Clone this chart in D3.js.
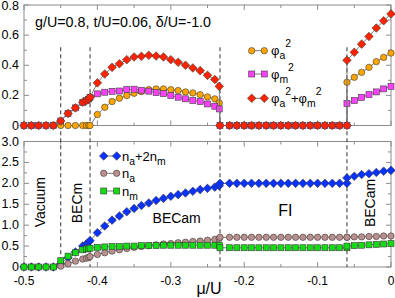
<!DOCTYPE html>
<html><head><meta charset="utf-8">
<script src="https://cdn.jsdelivr.net/npm/d3@7"></script>
<style>body{margin:0;background:#fff}svg{display:block}text{font-family:"Liberation Sans",Arial,sans-serif}</style>
</head><body>
<script>
const mu = [-0.5,-0.49,-0.48,-0.47,-0.46,
 -0.45,-0.44,-0.43,-0.42,-0.415,-0.412,-0.41,
 -0.40,-0.39,-0.38,-0.37,-0.36,-0.35,-0.34,-0.33,-0.32,-0.31,-0.30,-0.29,-0.28,-0.27,-0.26,-0.25,-0.24,
 -0.234,
 -0.233,-0.22,-0.21,-0.20,-0.19,-0.18,-0.17,-0.16,-0.15,-0.14,-0.13,-0.12,-0.11,-0.10,-0.09,-0.08,-0.07,-0.06,
 -0.06,-0.05,-0.04,-0.03,-0.02,-0.01,0];
const phiA2 = [0,0,0,0,0,
 0,0,0,0,0,0,0,
 0.073,0.121,0.159,0.181,0.199,0.214,0.225,0.238,0.243,0.243,0.238,0.232,0.223,0.216,0.205,0.19,0.177,
 0.15,
 0,0,0,0,0,0,0,0,0,0,0,0,0,0,0,0,0,0,
 0.287,0.32,0.353,0.386,0.424,0.452,0.481];
const phiM2 = [0,0,0,0,0,
 0.03,0.08,0.117,0.154,0.165,0.175,0.187,
 0.21,0.221,0.227,0.229,0.238,0.241,0.234,0.228,0.218,0.212,0.199,0.188,0.177,0.166,0.159,0.143,0.128,
 0.11,
 0,0,0,0,0,0,0,0,0,0,0,0,0,0,0,0,0,0,
 0.146,0.166,0.187,0.205,0.223,0.243,0.26];
const phiSum = [0,0,0,0,0,
 0.03,0.08,0.117,0.154,0.165,0.175,0.187,
 0.283,0.342,0.386,0.41,0.437,0.455,0.459,0.466,0.461,0.455,0.437,0.42,0.40,0.382,0.364,0.333,0.305,
 0.26,
 0,0,0,0,0,0,0,0,0,0,0,0,0,0,0,0,0,0,
 0.433,0.486,0.54,0.591,0.647,0.695,0.741];
const nTot = [0,0,0,0,0,
 0.08,0.22,0.36,0.50,0.55,0.59,0.63,
 0.82,0.98,1.12,1.22,1.32,1.40,1.47,1.53,1.59,1.64,1.69,1.73,1.77,1.81,1.85,1.88,1.91,
 1.94,
 2.0,2.0,2.0,2.0,2.0,2.0,2.0,2.0,2.0,2.0,2.0,2.0,2.0,2.0,2.0,2.0,2.0,2.0,
 2.13,2.17,2.21,2.23,2.26,2.29,2.31];
const nA = [0,0,0,0,0,
 0.02,0.08,0.14,0.19,0.21,0.23,0.25,
 0.30,0.34,0.38,0.41,0.44,0.47,0.49,0.51,0.53,0.55,0.56,0.58,0.59,0.61,0.62,0.64,0.66,
 0.68,
 0.71,0.71,0.71,0.71,0.71,0.71,0.71,0.71,0.71,0.71,0.71,0.71,0.71,0.71,0.71,0.71,0.71,0.71,
 0.71,0.72,0.72,0.73,0.73,0.74,0.74];
const nM = [0,0,0,0,0,
 0.15,0.26,0.34,0.41,0.43,0.44,0.45,
 0.47,0.48,0.49,0.49,0.50,0.50,0.51,0.51,0.51,0.52,0.52,0.52,0.52,0.52,0.52,0.52,0.52,
 0.52,
 0.46,0.46,0.46,0.46,0.46,0.46,0.46,0.46,0.46,0.46,0.46,0.46,0.46,0.46,0.46,0.46,0.46,0.46,
 0.50,0.51,0.52,0.53,0.54,0.55,0.56];
const transitions = [-0.45,-0.41,-0.233,-0.06];
const xTicks = [-0.5,-0.4,-0.3,-0.2,-0.1,0];
const xTickLabels = ["-0.5","-0.4","-0.3","-0.2","-0.1","0"];
const yTopTicks = [0,0.2,0.4,0.6,0.8];
const yTopLabels = ["0","0.2","0.4","0.6","0.8"];
const yBotTicks = [0,0.5,1.0,1.5,2.0,2.5,3.0];
const yBotLabels = ["0","0.5","1.0","1.5","2.0","2.5","3.0"];
const phaseLabels = [
 {t:"Vacuum", mu:-0.478, v:1.55, rot:true},
 {t:"BECm", mu:-0.428, v:1.53, rot:true},
 {t:"BECam", mu:-0.292, v:1.17, rot:false},
 {t:"FI", mu:-0.144, v:1.36, rot:false, big:true},
 {t:"BECam", mu:-0.029, v:1.53, rot:true}
];

const W=395,H=298;
const svg = d3.select("body").append("svg").attr("width",W).attr("height",H);
const x = d3.scaleLinear().domain([-0.5,0]).range([24,391]);
const yT = d3.scaleLinear().domain([0,0.8]).range([125.5,5]);
const yB = d3.scaleLinear().domain([0,3]).range([267,141.5]);
const frameColor="#8c8c8c";

function panel(y, yticks, ylabels, yminor, showX){
  const g = svg.append("g");
  const [y0,y1] = y.range();
  const xMinor = d3.range(-0.5,0.0001,0.05);
  xMinor.forEach(v=>{
    const major = Math.abs(Math.round(v*10)-v*10)<1e-6;
    const len = major?5:3;
    g.append("line").attr("x1",x(v)).attr("x2",x(v)).attr("y1",y0).attr("y2",y0-len).attr("stroke",frameColor);
    g.append("line").attr("x1",x(v)).attr("x2",x(v)).attr("y1",y1).attr("y2",y1+len).attr("stroke",frameColor);
  });
  yminor.forEach(v=>{
    const major = yticks.some(t=>Math.abs(t-v)<1e-6);
    const len = major?5:3;
    g.append("line").attr("x1",x(-0.5)).attr("x2",x(-0.5)+len).attr("y1",y(v)).attr("y2",y(v)).attr("stroke",frameColor);
    g.append("line").attr("x1",x(0)).attr("x2",x(0)-len).attr("y1",y(v)).attr("y2",y(v)).attr("stroke",frameColor);
  });
  g.append("rect").attr("x",x(-0.5)).attr("y",y1).attr("width",x(0)-x(-0.5)).attr("height",y0-y1)
   .attr("fill","none").attr("stroke",frameColor).attr("stroke-width",1);
  yticks.forEach((v,i)=>{
    g.append("text").attr("x",19).attr("y",Math.max(y(v)+4,10)).attr("text-anchor","end").attr("font-size",12.5).text(ylabels[i]);
  });
  if(showX){
    xTicks.forEach((v,i)=>{
      g.append("text").attr("x",x(v)).attr("y",285).attr("text-anchor","middle").attr("font-size",12).text(xTickLabels[i]);
    });
  }
}
panel(yT, yTopTicks, yTopLabels, d3.range(0,0.8001,0.1), false);
panel(yB, yBotTicks, yBotLabels, d3.range(0,3.0001,0.25), true);

transitions.forEach(t=>{
  svg.append("line").attr("x1",x(t)).attr("x2",x(t)).attr("y1",yT(0.52)).attr("y2",yB(0))
   .attr("stroke","#444").attr("stroke-width",1.1).attr("stroke-dasharray","4,3");
});

const lineColor="#7a7a7a";
const mstroke="#3a3a3a";
function marker(g, shape, cx, cy, fill){
  if(shape==="circle") g.append("circle").attr("cx",cx).attr("cy",cy).attr("r",3.2).attr("fill",fill).attr("stroke",mstroke).attr("stroke-width",0.6);
  else if(shape==="square") g.append("rect").attr("x",cx-3).attr("y",cy-3).attr("width",6).attr("height",6).attr("fill",fill).attr("stroke",mstroke).attr("stroke-width",0.6);
  else g.append("path").attr("d",`M${cx},${cy-4.3}L${cx+4.3},${cy}L${cx},${cy+4.3}L${cx-4.3},${cy}Z`).attr("fill",fill).attr("stroke",mstroke).attr("stroke-width",0.6);
}
function series(y, vals, shape, fill){
  const g = svg.append("g");
  const pts = mu.map((m,i)=>[x(m),y(vals[i])]);
  g.append("path").attr("d",d3.line()(pts)).attr("fill","none").attr("stroke",lineColor).attr("stroke-width",1);
  pts.forEach(p=>marker(g,shape,p[0],p[1],fill));
}
series(yT, phiA2, "circle", "#ffa500");
series(yT, phiM2, "square", "#ff40ff");
series(yT, phiSum, "diamond", "#ff2200");
series(yB, nTot, "diamond", "#0a32ff");
series(yB, nA, "circle", "#bc8f8f");
series(yB, nM, "square", "#11dd11");

svg.append("text").attr("x",35).attr("y",27).attr("font-size",14.3).text("g/U=0.8, t/U=0.06, δ/U=-1.0");

function legendRow(x1,x2,yy,shape,fill,tx,parts,fs){
  const g=svg.append("g");
  g.append("line").attr("x1",x1).attr("x2",x2).attr("y1",yy).attr("y2",yy).attr("stroke",lineColor);
  marker(g,shape,x1,yy,fill); marker(g,shape,x2,yy,fill);
  const t=g.append("text").attr("x",tx).attr("y",yy+4.5).attr("font-size",fs);
  let cur=0;
  parts.forEach(p=>{
    const target = p.s==="sub"?4:(p.s==="sup"?-8:0);
    t.append("tspan").attr("dy",target-cur).attr("font-size",p.s?fs*0.8:fs).text(p.t);
    cur=target;
  });
}
legendRow(251.7,264.3,50.7,"circle","#ffa500",271,[{t:"φ"},{t:"a",s:"sub"},{t:"2",s:"sup"}],13);
legendRow(251.7,264.3,74,"square","#ff40ff",271,[{t:"φ"},{t:"m",s:"sub"},{t:"2",s:"sup"}],13);
legendRow(251.7,264.3,98.3,"diamond","#ff2200",271,[{t:"φ"},{t:"a",s:"sub"},{t:"2",s:"sup"},{t:"+φ"},{t:"m",s:"sub"},{t:"2",s:"sup"}],13);
legendRow(103.7,116.7,156,"diamond","#0a32ff",122,[{t:"n"},{t:"a",s:"sub"},{t:"+2n"},{t:"m",s:"sub"}],13);
legendRow(103.7,116.7,173.3,"circle","#bc8f8f",122,[{t:"n"},{t:"a",s:"sub"}],13);
legendRow(103.7,116.7,191,"square","#11dd11",122,[{t:"n"},{t:"m",s:"sub"}],13);

phaseLabels.forEach(p=>{
  const px=x(p.mu), py=yB(p.v);
  const t=svg.append("text").attr("font-size",p.big?16:14).attr("text-anchor","middle");
  if(p.rot) t.attr("transform",`translate(${px},${py}) rotate(-90)`).attr("dy","0.35em");
  else t.attr("x",px).attr("y",py).attr("dy","0.35em");
  t.text(p.t);
});

svg.append("text").attr("x",209).attr("y",294).attr("text-anchor","middle").attr("font-size",16).text("μ/U");
</script>
</body></html>
